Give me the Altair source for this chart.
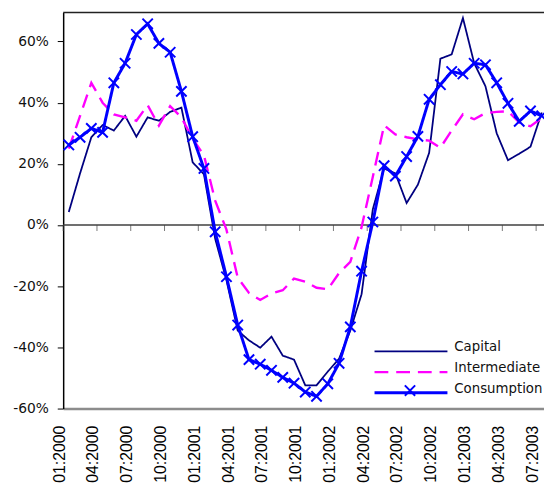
import json
import altair as alt
import pandas as pd

# ---------------- data ----------------
series_names = ["Capital", "Intermediate", "Consumption"]
series_colors = ["#000080", "#FF00FF", "#0000FF"]

tick_labels = ["01:2000", "04:2000", "07:2000", "10:2000",
               "01:2001", "04:2001", "07:2001", "10:2001",
               "01:2002", "04:2002", "07:2002", "10:2002",
               "01:2003", "04:2003", "07:2003"]

y_ticks = [-0.6, -0.4, -0.2, 0.0, 0.2, 0.4, 0.6]

capital = [0.043, 0.169, 0.287, 0.327, 0.309, 0.357, 0.289, 0.352, 0.341, 0.370,
           0.384, 0.205, 0.166, -0.045, -0.18, -0.345, -0.377, -0.401, -0.365, -0.427,
           -0.44, -0.524, -0.524, -0.479, -0.437, -0.345, -0.226, 0.052, 0.185, 0.169,
           0.072, 0.132, 0.236, 0.544, 0.558, 0.677, 0.529, 0.454, 0.300, 0.212,
           0.233, 0.256, 0.368]

intermediate = [0.25, 0.357, 0.465, 0.40, 0.362, 0.352, 0.341, 0.392, 0.325, 0.389,
                0.352, 0.282, 0.228, 0.08, -0.015, -0.172, -0.222, -0.245, -0.224, -0.213,
                -0.175, -0.185, -0.205, -0.21, -0.157, -0.12, -0.007, 0.158, 0.326, 0.296,
                0.287, 0.28, 0.276, 0.253, 0.309, 0.362, 0.346, 0.366, 0.37, 0.372,
                0.335, 0.323, 0.35]

consumption = [0.262, 0.287, 0.316, 0.303, 0.465, 0.529, 0.623, 0.658, 0.594, 0.565,
               0.437, 0.289, 0.185, -0.022, -0.169, -0.327, -0.440, -0.455, -0.475, -0.498,
               -0.517, -0.546, -0.560, -0.519, -0.452, -0.333, -0.151, 0.010, 0.194, 0.160,
               0.224, 0.290, 0.411, 0.459, 0.502, 0.494, 0.529, 0.524, 0.465, 0.398,
               0.339, 0.373, 0.357]

# ---------------- tables ----------------
rows = []
for name, vals in zip(series_names, [capital, intermediate, consumption]):
    for i, v in enumerate(vals):
        rows.append({"i": i, "value": v, "series": name})
df = pd.DataFrame(rows)
cons_df = df[df["series"] == "Consumption"]

tick_pos = [3 * k - 0.5 for k in range(len(tick_labels))]
ticks_df = pd.DataFrame({"i": tick_pos, "value": [0.0] * len(tick_pos)})
zero_df = pd.DataFrame({"value": [0.0]})

Y_MIN, Y_MAX = -0.6, 0.695
top_df = pd.DataFrame({"value": [Y_MAX]})

# ---------------- scales / axes ----------------
x_scale = alt.Scale(domain=[-0.5, 42.2], nice=False, zero=False)
y_scale = alt.Scale(domain=[Y_MIN, Y_MAX], nice=False, zero=False)

x_axis = alt.Axis(
    values=tick_pos,
    labelExpr=json.dumps(tick_labels) + "[round((datum.value + 0.5) / 3)]",
    labelAngle=270, ticks=False, tickSize=0, grid=False,
    domain=True, domainColor="#8c8c8c", domainWidth=2.5,
    labelFont="Liberation Sans", labelFontSize=16, labelColor="#000000",
    labelPadding=17, labelOffset=-4, labelOverlap=False, labelBound=False,
    labelFlush=False, title=None,
)
y_axis = alt.Axis(
    values=y_ticks,
    labelExpr="(datum.value < -0.001 ? '-' : '') + format(abs(datum.value) * 100, '.0f') + '%'",
    grid=False, domainColor="#000000", domainWidth=1.5,
    tickColor="#000000", tickSize=6, tickWidth=1,
    labelFont="DejaVu Sans", labelFontSize=14, labelColor="#111111",
    labelPadding=9, labelFlush=False, title=None,
)

x_enc = alt.X("i:Q", scale=x_scale, axis=x_axis)
y_enc = alt.Y("value:Q", scale=y_scale, axis=y_axis)

line_legend = alt.Legend(
    title=None, orient="none", legendX=314.5, legendY=334,
    symbolType="stroke", symbolSize=5476, symbolStrokeWidth=2.5,
    clipHeight=20, rowPadding=0, labelOffset=5.5, padding=0,
    labelFont="DejaVu Sans", labelFontSize=13.5, labelColor="#111111",
    labelBaseline="alphabetic", labelLimit=300,
)

x_path = "M-1,-1L1,1M-1,1L1,-1"

# ---------------- layers ----------------
top_rule = alt.Chart(top_df).mark_rule(color="#222222", strokeWidth=1.5).encode(y=y_enc)
zero_rule = alt.Chart(zero_df).mark_rule(color="#404040", strokeWidth=1.5).encode(y=y_enc)
zero_ticks = alt.Chart(ticks_df).mark_tick(
    orient="vertical", size=6, thickness=1, color="#404040", yOffset=3
).encode(x=x_enc, y=y_enc)

lines = alt.Chart(df).mark_line(clip=True).encode(
    x=x_enc,
    y=y_enc,
    color=alt.Color("series:N", scale=alt.Scale(domain=series_names, range=series_colors),
                    legend=line_legend),
    strokeDash=alt.StrokeDash("series:N",
                              scale=alt.Scale(domain=series_names, range=[[1, 0], [14, 8], [1, 0]]),
                              legend=line_legend),
    strokeWidth=alt.StrokeWidth("series:N",
                                scale=alt.Scale(domain=series_names, range=[1.8, 3, 2.0]),
                                legend=None),
)

points = alt.Chart(cons_df).mark_point(filled=False, size=110, strokeWidth=2, opacity=1).encode(
    x=x_enc,
    y=y_enc,
    shape=alt.Shape("series:N", scale=alt.Scale(domain=["Consumption"], range=[x_path]),
                    legend=alt.Legend(title=None, orient="none", legendX=345.5, legendY=377.2,
                                      symbolSize=110, symbolStrokeWidth=2,
                                      symbolStrokeColor="#0000FF",
                                      labelExpr="''", labelOpacity=0, labelFontSize=10,
                                      padding=0)),
    color=alt.value("#0000FF"),
)

chart = alt.layer(top_rule, zero_rule, zero_ticks, lines, points).properties(
    width=488, height=402,
    padding={"left": 56, "top": 1, "right": 0, "bottom": 72},
    autosize=alt.AutoSizeParams(type="none"),
    background="white",
).configure_view(stroke=None)

chart.save("out.html", embed_options={"renderer": "svg", "actions": False})
